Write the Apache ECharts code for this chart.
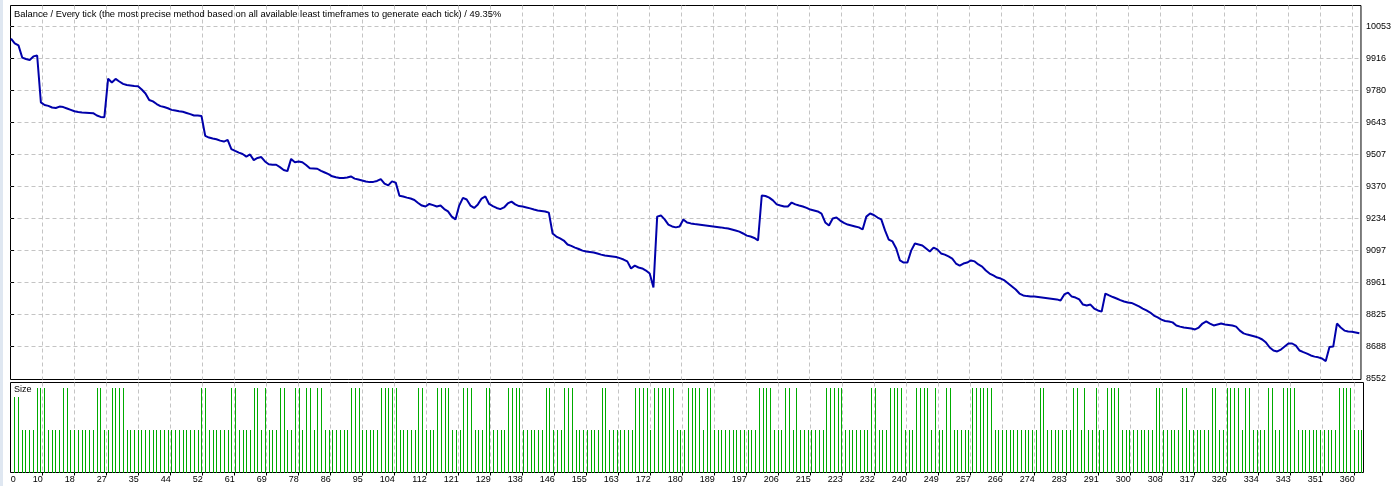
<!DOCTYPE html>
<html><head><meta charset="utf-8">
<script src="https://cdn.jsdelivr.net/npm/echarts@6/dist/echarts.min.js"></script>
<style>html,body{margin:0;padding:0;background:#fff}#c{width:1394px;height:486px}</style>
</head><body><div id="c"></div>
<script>
const chartTitle = 'Balance / Every tick (the most precise method based on all available least timeframes to generate each tick) / 49.35%';
const sizeLabel = 'Size';

// balance after each trade (index 0 = initial deposit)
const balance = [
10000,9980,9971,9919,9913,9909,9924,9928,9728,9717,
9713,9706,9704,9710,9708,9702,9696,9690,9687,9685,
9684,9683,9682,9672,9666,9665,9829,9813,9828,9817,
9807,9802,9800,9798,9797,9783,9766,9738,9732,9721,
9712,9708,9703,9696,9693,9690,9688,9683,9678,9672,
9672,9670,9585,9578,9574,9571,9565,9561,9568,9529,
9521,9514,9508,9497,9506,9482,9491,9495,9476,9464,
9462,9462,9452,9440,9435,9487,9473,9476,9473,9461,
9447,9446,9445,9436,9429,9422,9413,9409,9406,9406,
9408,9412,9403,9399,9395,9391,9388,9389,9393,9401,
9382,9374,9391,9386,9330,9327,9322,9318,9312,9299,
9288,9284,9295,9290,9284,9288,9273,9263,9241,9229,
9288,9321,9314,9288,9278,9293,9318,9327,9295,9286,
9278,9273,9280,9297,9305,9293,9286,9284,9280,9276,
9271,9267,9265,9263,9258,9169,9156,9148,9139,9122,
9116,9109,9103,9096,9092,9090,9088,9084,9079,9075,
9073,9071,9069,9064,9058,9050,9020,9032,9024,9020,
9011,8998,8939,9241,9246,9229,9207,9199,9195,9199,
9229,9216,9212,9209,9207,9205,9203,9201,9199,9197,
9195,9192,9190,9186,9182,9177,9169,9160,9156,9150,
9139,9331,9329,9322,9310,9293,9288,9284,9284,9301,
9293,9288,9284,9278,9271,9267,9263,9254,9216,9203,
9233,9237,9224,9214,9207,9203,9199,9195,9186,9241,
9254,9248,9237,9229,9182,9143,9135,9105,9054,9045,
9045,9096,9126,9122,9118,9105,9092,9109,9101,9084,
9079,9071,9062,9041,9032,9041,9045,9054,9050,9037,
9028,9011,8998,8990,8981,8977,8969,8956,8943,8930,
8913,8905,8902,8900,8900,8898,8896,8894,8892,8890,
8888,8883,8909,8917,8900,8896,8888,8866,8862,8866,
8849,8841,8836,8913,8905,8898,8892,8885,8879,8875,
8873,8866,8858,8849,8841,8832,8819,8811,8802,8796,
8794,8790,8777,8772,8768,8766,8764,8760,8768,8785,
8794,8785,8777,8781,8785,8781,8779,8777,8772,8755,
8743,8738,8734,8730,8725,8717,8704,8683,8670,8666,
8674,8687,8700,8700,8691,8670,8663,8657,8649,8644,
8641,8636,8625,8685,8687,8785,8768,8755,8751,8750,
8747,8744
];

// lot size of each trade
const lotSize = [
0.018,0.018,
0.01,0.01,0.01,0.01,
0.02,0.02,0.02,
0.01,0.01,0.01,0.01,
0.02,0.02,
0.01,0.01,0.01,0.01,0.01,0.01,0.01,
0.02,0.02,
0.01,0.01,
0.02,0.02,0.02,0.02,
0.01,0.01,0.01,0.01,0.01,0.01,0.01,0.01,0.01,0.01,0.01,0.01,0.01,0.01,0.01,0.01,0.01,0.01,0.01,0.01,
0.02,0.02,
0.01,0.01,0.01,0.01,0.01,0.01,
0.02,0.02,
0.01,0.01,0.01,0.01,
0.02,0.02,
0.01,
0.02,
0.01,0.01,0.01,
0.02,0.02,
0.01,0.01,
0.02,0.02,
0.01,
0.02,0.02,
0.01,
0.02,0.02,
0.01,0.01,0.01,0.01,0.01,0.01,0.01,
0.02,0.02,0.02,
0.01,0.01,0.01,0.01,0.01,
0.02,0.02,0.02,0.02,0.02,
0.01,0.01,0.01,0.01,0.01,
0.02,0.02,
0.01,0.01,0.01,
0.02,0.02,0.02,0.02,
0.01,0.01,0.01,
0.02,0.02,0.02,
0.01,0.01,0.01,
0.02,0.02,
0.01,0.01,0.01,0.01,
0.02,0.02,0.02,0.02,
0.01,0.01,0.01,0.01,0.01,0.01,
0.02,0.02,
0.01,0.01,0.01,
0.02,0.02,0.02,
0.01,0.01,0.01,0.01,0.01,0.01,0.01,
0.02,0.02,
0.01,0.01,0.01,0.01,0.01,0.01,0.01,
0.02,0.02,0.02,0.02,
0.01,
0.02,0.02,0.02,0.02,0.02,0.02,
0.01,0.01,0.01,
0.02,0.02,0.02,0.02,
0.01,
0.02,0.02,
0.01,0.01,0.01,0.01,0.01,0.01,0.01,0.01,0.01,0.01,0.01,0.01,
0.02,0.02,0.02,0.02,
0.01,0.01,0.01,
0.02,0.02,
0.01,
0.02,
0.01,0.01,0.01,0.01,0.01,0.01,0.01,
0.02,0.02,0.02,0.02,0.02,
0.01,0.01,0.01,0.01,0.01,0.01,0.01,
0.02,0.02,
0.01,0.01,0.01,
0.02,0.02,0.02,0.02,
0.01,0.01,0.01,
0.02,0.02,0.02,0.02,
0.01,
0.02,
0.01,0.01,
0.02,0.02,
0.01,0.01,0.01,0.01,0.01,
0.02,0.02,0.02,0.02,0.02,0.02,
0.01,0.01,0.01,0.01,0.01,0.01,0.01,0.01,0.01,0.01,0.01,0.01,
0.02,0.02,
0.01,0.01,0.01,0.01,0.01,0.01,0.01,
0.02,0.02,
0.01,
0.02,
0.01,0.01,
0.02,
0.01,0.01,
0.02,0.02,0.02,0.02,
0.01,0.01,0.01,0.01,0.01,0.01,0.01,0.01,0.01,
0.02,0.02,
0.01,0.01,0.01,0.01,0.01,
0.02,0.02,
0.01,0.01,0.01,0.01,0.01,0.01,
0.02,0.02,
0.01,0.01,
0.02,0.02,0.02,0.02,
0.01,
0.02,0.02,
0.01,0.01,0.01,0.01,
0.02,0.02,
0.01,0.01,
0.02,0.02,0.02,0.02,
0.01,0.01,0.01,0.01,0.01,0.01,0.01,0.01,0.01,0.01,0.01,
0.02,0.02,0.02,0.02,
0.01,0.01,0.01
];

const xTickLabels = ['0','10','18','27','35','44','52','61','69','78','86','95','104','112','121','129','138','146','155','163','172','180','189','197','206','215','223','232','240','249','257','266','274','283','291','300','308','317','326','334','343','351','360'];
const yTickLabels = [8552,8688,8825,8961,9097,9234,9370,9507,9643,9780,9916,10053];

// ---- layout ----
const FONT = '"Liberation Sans", Arial, sans-serif';
const xMin = -0.134, xMax = 361.43;
const xTickStart = 8.471, xTickStep = 8.5516, xZeroLabelPos = 1.28;
const xTickVals = xTickLabels.slice(1).map((_, i) => xTickStart + i * xTickStep);
const xLabelVals = [xZeroLabelPos].concat(xTickVals);
function xLabelText(v) {
  let best = -1, bd = 1e9;
  xLabelVals.forEach((p, i) => { const d = Math.abs(p - v); if (d < bd) { bd = d; best = i; } });
  return bd < 0.05 ? xTickLabels[best] : '';
}
const gridLine = { show: true, lineStyle: { color: '#c4c4c4', width: 1, type: [4, 3] } };

const chart = echarts.init(document.getElementById('c'), null, { renderer: 'canvas' });
chart.setOption({
  animation: false,
  backgroundColor: '#ffffff',
  grid: [
    { left: 10.5, top: 5.5, width: 1353, height: 374, show: true, borderColor: '#000', borderWidth: 1, backgroundColor: '#fff' },
    { left: 10.5, top: 382.5, width: 1353, height: 90, show: true, borderColor: '#000', borderWidth: 1, backgroundColor: '#fff' }
  ],
  xAxis: [
    { gridIndex: 0, type: 'value', min: xMin, max: xMax,
      axisLine: { show: false }, axisTick: { show: false, customValues: xTickVals },
      axisLabel: { show: false, customValues: xTickVals }, splitLine: gridLine },
    { gridIndex: 1, type: 'value', min: xMin, max: xMax,
      axisLine: { show: false },
      axisTick: { show: true, length: 3, customValues: xTickVals, lineStyle: { color: '#000' } },
      axisLabel: { show: true, customValues: xLabelVals, formatter: xLabelText, align: 'right', margin: 3,
        color: '#000', fontFamily: FONT, fontSize: 9 },
      splitLine: gridLine }
  ],
  yAxis: [
    { gridIndex: 0, type: 'value', position: 'right', min: 8546.5, max: 10141,
      axisLine: { show: false },
      axisTick: { show: true, length: 3, customValues: yTickLabels.slice(1), lineStyle: { color: '#000' } },
      axisLabel: { show: true, customValues: yTickLabels, margin: 5, color: '#000', fontFamily: FONT, fontSize: 9,
        formatter: v => String(Math.round(v)) },
      splitLine: gridLine },
    { gridIndex: 1, type: 'value', min: 0, max: 0.02133,
      axisLine: { show: false }, axisTick: { show: false }, axisLabel: { show: false }, splitLine: { show: false } }
  ],
  graphic: [
    { type: 'rect', shape: { x: 0, y: 0, width: 3, height: 486 }, style: { fill: '#dfe7f1' }, silent: true },
    { type: 'text', x: 14, y: 14.4, style: { text: chartTitle, font: '9.4px ' + FONT, fill: '#000', align: 'left', verticalAlign: 'middle' }, z: 100 },
    { type: 'text', x: 14, y: 390, style: { text: sizeLabel, font: '9px ' + FONT, fill: '#000', align: 'left', verticalAlign: 'middle' }, z: 100 }
  ],
  series: [
    { type: 'line', xAxisIndex: 0, yAxisIndex: 0, data: balance.map((v, k) => [k, v]),
      showSymbol: false, symbol: 'none', lineStyle: { color: '#0000aa', width: 2 }, z: 5, clip: true },
    { type: 'custom', xAxisIndex: 1, yAxisIndex: 1, data: lotSize.map((v, j) => [j + 1, v]),
      encode: { x: 0, y: 1 },
      renderItem: function (params, api) {
        const top = api.coord([api.value(0), api.value(1)]);
        const base = api.coord([api.value(0), 0]);
        const x = Math.floor(top[0]);
        const y = Math.round(top[1]);
        return { type: 'rect', shape: { x: x, y: y, width: 1, height: Math.round(base[1]) - y },
          style: { fill: '#00ab00' } };
      }, z: 5 }
  ]
});
</script>
</body></html>
